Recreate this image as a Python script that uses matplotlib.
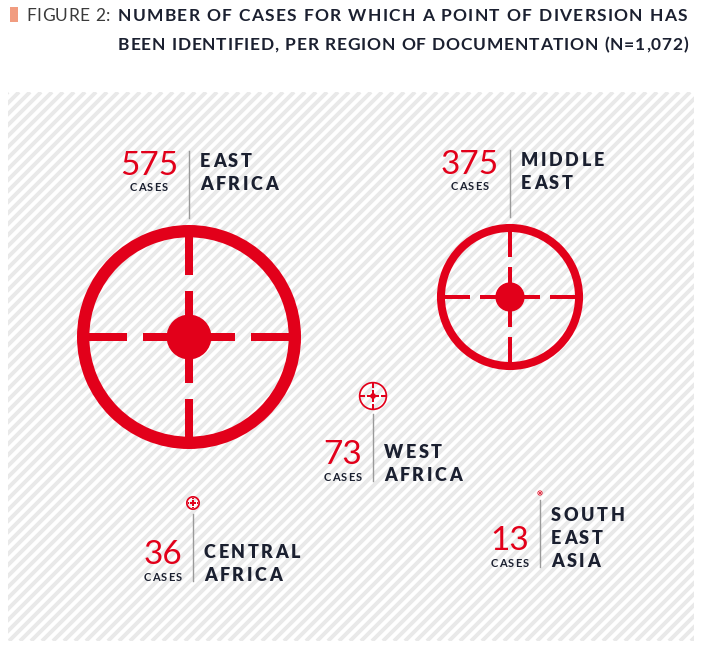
import numpy as np
import matplotlib.pyplot as plt
from matplotlib.patches import Annulus, Circle, Rectangle
from matplotlib.collections import LineCollection

# data
regions = [["EAST", "AFRICA"], ["MIDDLE", "EAST"], ["WEST", "AFRICA"],
           ["CENTRAL", "AFRICA"], ["SOUTH", "EAST", "ASIA"]]
cases = [575, 375, 73, 36, 13]
title_lead = "FIGURE 2:"
title_lines = ["NUMBER OF CASES FOR WHICH A POINT OF DIVERSION HAS",
               "BEEN IDENTIFIED, PER REGION OF DOCUMENTATION (N=1,072)"]

# layout (pixel coords, y down)
centers = [(189, 337), (510, 297), (373, 396), (193, 503), (540, 493)]
label_side = ["top", "top", "bottom", "bottom", "bottom"]
px_per_case = 112 / 575

RED = "#e2001a"
NAVY = "#1b2030"

plt.rcParams["font.family"] = ["Lato", "DejaVu Sans"]

fig = plt.figure(figsize=(7.05, 6.51), dpi=100)
ax = fig.add_axes([0, 0, 1, 1])
ax.set_xlim(0, 705)
ax.set_ylim(651, 0)
ax.axis("off")
renderer = fig.canvas.get_renderer()


def tracked(x, y, s, size, spacing=0, ha="left", width=None, **kw):
    """draw text char by char with extra letter spacing (px)"""
    texts, widths = [], []
    for ch in s:
        if ch == " ":
            texts.append(None)
            widths.append(size * 100 / 72 * 0.26)
            continue
        t = ax.text(0, y, ch, fontsize=size, va="baseline", ha="left", **kw)
        texts.append(t)
        widths.append(t.get_window_extent(renderer).width)
    if width is not None:
        spacing = (width - sum(widths)) / (len(s) - 1)
    total = sum(widths) + spacing * (len(s) - 1)
    if ha == "center":
        x = x - total / 2
    elif ha == "right":
        x = x - total
    for t, w in zip(texts, widths):
        if t is not None:
            t.set_x(x)
        x += w + spacing
    return total


# striped background
x0, y0, x1, y1 = 8, 92, 694, 641
bg = Rectangle((x0, y0), x1 - x0, y1 - y0, facecolor="white",
               edgecolor="none", zorder=0.2)
ax.add_patch(bg)
cs = np.arange(x0 + y0, x1 + y1 + 11, 11)
segs = [[(c - y0, y0), (c - y1, y1)] for c in cs]
lc = LineCollection(segs, colors="#e9e9e9", linewidths=2.8, zorder=0.3)
ax.add_collection(lc)
lc.set_clip_path(bg)

# title
ax.add_patch(Rectangle((10, 7), 8, 15, color="#f19c80", lw=0))
tracked(26, 21, title_lead, 12.5, width=84, color="#3a3a3a")
tracked(118, 21, title_lines[0], 12.5, width=569, color=NAVY, fontweight="bold")
tracked(118, 50, title_lines[1], 12.5, width=570, color=NAVY, fontweight="bold")


def target(cx, cy, r):
    ring = max(0.11 * r, min(1.7, 0.3 * r))
    hw = max(0.032 * r, min(0.55, 0.12 * r))
    ax.add_patch(Annulus((cx, cy), r, ring, color=RED, lw=0, zorder=2))
    ax.add_patch(Circle((cx, cy), max(0.2 * r, 1.0), color=RED, lw=0, zorder=2))
    for a, b in [(0.55, 1 - ring / r + 0.01), (0, 0.41)]:
        for sgn in (-1, 1):
            lo, hi = sorted((sgn * a * r, sgn * b * r))
            ax.add_patch(Rectangle((cx + lo, cy - hw), hi - lo, 2 * hw,
                                   color=RED, lw=0, zorder=2))
            ax.add_patch(Rectangle((cx - hw, cy + lo), 2 * hw, hi - lo,
                                   color=RED, lw=0, zorder=2))


for lab, n, (cx, cy), side in zip(regions, cases, centers, label_side):
    r = n * px_per_case
    target(cx, cy, r)
    if side == "top":
        top = cy - r - 74
        bot = cy - r - 7
        lab_y = [top + 16 + 23 * i for i in range(len(lab))]
        num_y = top + 24
        cas_y = top + 40
    else:
        top = cy + r + 4
        bot = top + 67
        lab_y = [bot - 23 * (len(lab) - 1 - i) for i in range(len(lab))]
        num_y = bot - 17
        cas_y = bot
    ax.plot([cx, cx], [top, bot], color="#9a9a9a", lw=1.0)
    for s, ly in zip(lab, lab_y):
        tracked(cx + 11, ly, s, 13, 2.6, color=NAVY, fontweight="heavy")
    t = ax.text(cx - 11, num_y, str(n), fontsize=24, color=RED,
                ha="right", va="baseline")
    w = t.get_window_extent(renderer).width
    tracked(cx - 11 - w / 2, cas_y, "CASES", 8, 1.2, ha="center",
            color=NAVY, fontweight="bold")

fig.savefig("out.png", dpi=100)
